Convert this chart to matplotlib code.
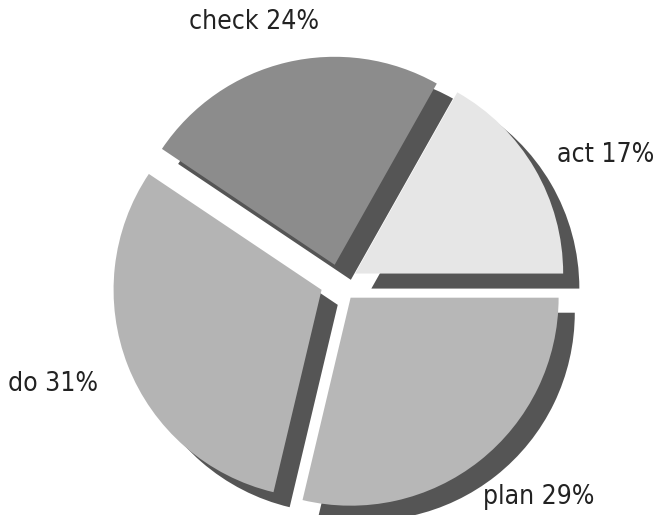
import matplotlib
matplotlib.use("Agg")
import matplotlib.pyplot as plt
import numpy as np
from matplotlib.patches import Shadow

# PDCA share
labels = ["act", "check", "do", "plan"]
shares = [17, 24, 31, 29]
colors = ["#e6e6e6", "#8c8c8c", "#b4b4b4", "#b7b7b7"]

# label placement (angle deg, distance in radii from pie centre)
label_angle = [25.6, 108.0, 199.5, 313.0]
label_dist = [1.42, 1.32, 1.46, 1.41]

fig = plt.figure(figsize=(6.57, 5.15), dpi=100)
ax = fig.add_axes([0, 0, 1, 1])

wedges, _ = ax.pie(shares, colors=colors, startangle=0, counterclock=True,
                   explode=[0.09] * len(shares),
                   wedgeprops={"linewidth": 0})

# dark drop shadow, offset right and down
for w in wedges:
    sh = Shadow(w, 0.056, -0.052)
    sh.set_facecolor("#555555")
    sh.set_edgecolor("none")
    sh.set_alpha(1.0)
    sh.set_zorder(w.get_zorder() - 0.1)
    ax.add_patch(sh)

for lab, val, ang, dist in zip(labels, shares, label_angle, label_dist):
    t = np.deg2rad(ang)
    ax.text(dist * np.cos(t), dist * np.sin(t), f"{lab} {val}%",
            ha="center", va="center", fontsize=19, fontstretch="condensed",
            color="#222222")

r_px = 208.0
cx, cy = 339.0, 283.0
ax.set_xlim(-cx / r_px, (657 - cx) / r_px)
ax.set_ylim(-(515 - cy) / r_px, cy / r_px)
ax.set_aspect("auto")
ax.axis("off")

plt.savefig("out.png", dpi=100)
